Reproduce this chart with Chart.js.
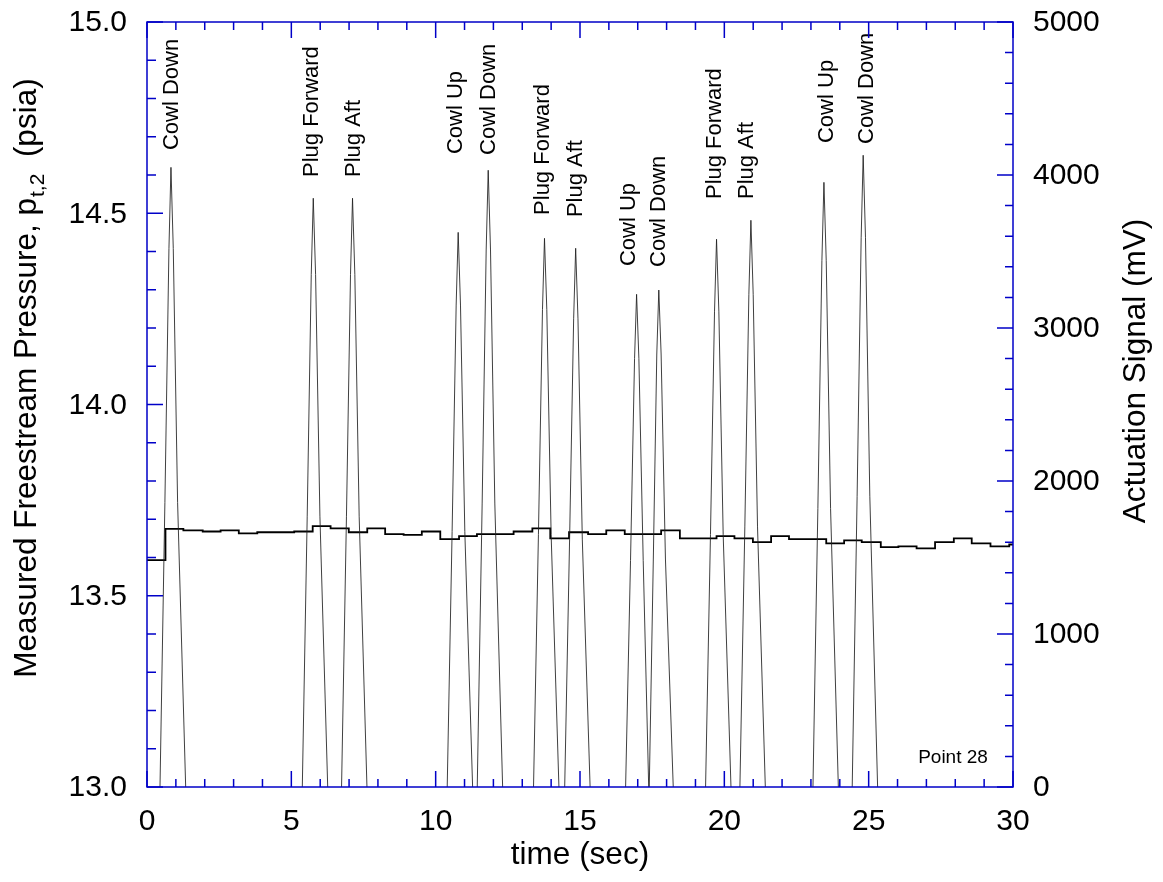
<!DOCTYPE html>
<html>
<head>
<meta charset="utf-8">
<script src="https://cdn.jsdelivr.net/npm/chart.js@4"></script>
<style>
  html, body { margin: 0; padding: 0; background: #fff; }
  #chart { display: block; }
</style>
</head>
<body>
<canvas id="chart" width="1163" height="882"></canvas>
<script>
// --- datos ---

// presion medida (escalones), cada valor vale desde su tiempo hasta el siguiente
const stepTime = [0, 0.64, 1.26, 1.93, 2.55, 3.18, 3.82, 4.45, 5.10, 5.74, 6.36, 6.99,
  7.63, 8.25, 8.89, 9.52, 10.16, 10.81, 11.43, 12.07, 12.70, 13.35, 13.97, 14.62,
  15.28, 15.91, 16.55, 17.18, 17.81, 18.46, 19.08, 19.73, 20.35, 20.99, 21.62, 22.24,
  22.87, 23.53, 24.15, 24.76, 25.42, 26.03, 26.66, 27.30, 27.95, 28.57, 29.22, 29.87, 30];
const stepPsia = [13.593, 13.675, 13.671, 13.668, 13.671, 13.663, 13.666, 13.666, 13.668, 13.682, 13.676, 13.666,
  13.676, 13.661, 13.659, 13.668, 13.648, 13.656, 13.661, 13.661, 13.668, 13.676, 13.650, 13.666,
  13.661, 13.671, 13.661, 13.661, 13.671, 13.650, 13.650, 13.656, 13.650, 13.640, 13.656, 13.648,
  13.648, 13.637, 13.645, 13.640, 13.627, 13.629, 13.624, 13.640, 13.650, 13.637, 13.629, 13.634, 13.634];

// senal de actuacion (mV), picos separados por null
const actTime = [
  0.45, 0.62, 0.76, 0.83, 0.91, 1.06, 1.34, 2,
  5.38, 5.55, 5.69, 5.76, 5.84, 5.99, 6.26, 6.5,
  6.74, 6.91, 7.05, 7.12, 7.20, 7.35, 7.62, 9,
  10.40, 10.57, 10.71, 10.78, 10.86, 11.01, 11.28, 11.35,
  11.44, 11.61, 11.75, 11.82, 11.90, 12.05, 12.32, 13,
  13.39, 13.56, 13.70, 13.77, 13.85, 14.00, 14.27, 14.4,
  14.47, 14.64, 14.78, 14.85, 14.93, 15.08, 15.35, 16,
  16.58, 16.75, 16.89, 16.96, 17.04, 17.19, 17.38, 17.39,
  17.40, 17.54, 17.66, 17.73, 17.81, 17.96, 18.23, 19,
  19.35, 19.52, 19.66, 19.73, 19.81, 19.96, 20.23, 20.4,
  20.54, 20.71, 20.85, 20.92, 21.00, 21.15, 21.42, 22,
  23.07, 23.24, 23.38, 23.45, 23.53, 23.68, 23.95, 24.2,
  24.43, 24.60, 24.74, 24.81, 24.89, 25.04, 25.31];
const actMv = [
  0, 1860, 3520, 4050, 3520, 1860, 0, null,
  0, 1770, 3350, 3848, 3350, 1770, 0, null,
  0, 1770, 3350, 3848, 3350, 1770, 0, null,
  0, 1670, 3150, 3625, 3150, 1670, 0, null,
  0, 1850, 3510, 4031, 3510, 1850, 0, null,
  0, 1650, 3120, 3586, 3120, 1650, 0, null,
  0, 1620, 3060, 3521, 3060, 1620, 0, null,
  0, 1480, 2800, 3220, 2800, 1480, 0, null,
  0, 1490, 2830, 3248, 2830, 1490, 0, null,
  0, 1650, 3110, 3580, 3110, 1650, 0, null,
  0, 1700, 3220, 3704, 3220, 1700, 0, null,
  0, 1820, 3440, 3952, 3440, 1820, 0, null,
  0, 1900, 3590, 4129, 3590, 1900, 0];

// etiquetas de los eventos (inicio del texto vertical)
const eventText = ['Cowl Down', 'Plug Forward', 'Plug Aft', 'Cowl Up', 'Cowl Down', 'Plug Forward', 'Plug Aft',
  'Cowl Up', 'Cowl Down', 'Plug Forward', 'Plug Aft', 'Cowl Up', 'Cowl Down'];
const eventTime = [0.86, 5.73, 7.17, 10.70, 11.85, 13.70, 14.85, 16.70, 17.73, 19.67, 20.77, 23.55, 24.94];
const eventMv = [4163, 3987, 3987, 4137, 4131, 3739, 3725, 3405, 3399, 3843, 3843, 4209, 4203];

// marcas de los ejes
const xTicks = [0, 5, 10, 15, 20, 25, 30];
const leftTicks = ['13.0', '13.5', '14.0', '14.5', '15.0'];
const rightTicks = [0, 1000, 2000, 3000, 4000, 5000];

const AZUL = '#0000c8';
const FUENTE = '"Liberation Sans", Arial, Helvetica, sans-serif';

// ejes, marcas hacia dentro y textos
const marco = {
  id: 'marco',
  afterDatasetsDraw(chart) {
    const ctx = chart.ctx, a = chart.chartArea;
    const sx = chart.scales.x, sy = chart.scales.y, sy2 = chart.scales.y2;
    ctx.save();

    // textos de eventos
    ctx.fillStyle = '#000';
    ctx.font = '22px ' + FUENTE;
    ctx.textAlign = 'left';
    ctx.textBaseline = 'middle';
    eventText.forEach((txt, i) => {
      ctx.save();
      ctx.translate(sx.getPixelForValue(eventTime[i]), sy2.getPixelForValue(eventMv[i]));
      ctx.rotate(-Math.PI / 2);
      ctx.fillText(txt, 0, 0);
      ctx.restore();
    });

    // marco y marcas
    ctx.strokeStyle = AZUL;
    ctx.lineWidth = 1.5;
    ctx.strokeRect(a.left, a.top, a.right - a.left, a.bottom - a.top);
    ctx.beginPath();
    for (let i = 0; i <= 30; i++) {
      const px = sx.getPixelForValue(i);
      const len = i % 5 === 0 ? 16 : 8;
      ctx.moveTo(px, a.bottom); ctx.lineTo(px, a.bottom - len);
      ctx.moveTo(px, a.top); ctx.lineTo(px, a.top + len);
    }
    for (let i = 0; i <= 20; i++) {
      const py = sy.getPixelForValue(13 + i * 0.1);
      const len = i % 5 === 0 ? 16 : 9;
      ctx.moveTo(a.left, py); ctx.lineTo(a.left + len, py);
    }
    for (let i = 0; i <= 25; i++) {
      const py = sy2.getPixelForValue(i * 200);
      const len = i % 5 === 0 ? 16 : 8;
      ctx.moveTo(a.right, py); ctx.lineTo(a.right - len, py);
    }
    ctx.stroke();

    // etiquetas de las marcas
    ctx.fillStyle = '#000';
    ctx.font = '30px ' + FUENTE;
    ctx.textBaseline = 'middle';
    ctx.textAlign = 'right';
    leftTicks.forEach(t => ctx.fillText(t, a.left - 20, sy.getPixelForValue(parseFloat(t)) + 1));
    ctx.textAlign = 'left';
    rightTicks.forEach(t => ctx.fillText(String(t), a.right + 20, sy2.getPixelForValue(t) + 1));
    ctx.textAlign = 'center';
    ctx.textBaseline = 'alphabetic';
    xTicks.forEach(t => ctx.fillText(String(t), sx.getPixelForValue(t), a.bottom + 43));

    // titulos
    ctx.font = '31.5px ' + FUENTE;
    ctx.fillText('time (sec)', (a.left + a.right) / 2, 864);

    ctx.save();
    ctx.translate(1145, 371);
    ctx.rotate(-Math.PI / 2);
    ctx.fillText('Actuation Signal (mV)', 0, 0);
    ctx.restore();

    // titulo izquierdo con subindice
    const parte1 = 'Measured Freestream Pressure, p';
    const sub = 't,2';
    const parte2 = '  (psia)';
    ctx.font = '31.5px ' + FUENTE;
    const w1 = ctx.measureText(parte1).width;
    const w3 = ctx.measureText(parte2).width;
    ctx.font = '21px ' + FUENTE;
    const w2 = ctx.measureText(sub).width;
    const total = w1 + w2 + w3;
    ctx.save();
    ctx.translate(36, 378);
    ctx.rotate(-Math.PI / 2);
    ctx.textAlign = 'left';
    let x0 = -total / 2;
    ctx.font = '31.5px ' + FUENTE;
    ctx.fillText(parte1, x0, 0);
    ctx.font = '21px ' + FUENTE;
    ctx.fillText(sub, x0 + w1 + 1, 8);
    ctx.font = '31.5px ' + FUENTE;
    ctx.fillText(parte2, x0 + w1 + w2, 0);
    ctx.restore();

    // identificador del punto
    ctx.font = '19px ' + FUENTE;
    ctx.textAlign = 'center';
    ctx.textBaseline = 'middle';
    ctx.fillText('Point 28', a.right - 60, a.bottom - 29);

    ctx.restore();
  }
};

new Chart(document.getElementById('chart'), {
  type: 'line',
  data: {
    datasets: [
      {
        label: 'Actuation',
        data: actTime.map((t, i) => ({ x: t, y: actMv[i] })),
        yAxisID: 'y2',
        borderColor: 'rgba(30,30,30,0.85)',
        borderWidth: 1,
        pointRadius: 0,
        spanGaps: false,
        tension: 0
      },
      {
        label: 'Pressure',
        data: stepTime.map((t, i) => ({ x: t, y: stepPsia[i] })),
        yAxisID: 'y',
        borderColor: '#000',
        borderWidth: 1.8,
        pointRadius: 0,
        stepped: true
      }
    ]
  },
  options: {
    responsive: false,
    animation: false,
    devicePixelRatio: 1,
    layout: { padding: { left: 147, right: 150, top: 22, bottom: 95 } },
    plugins: { legend: { display: false }, tooltip: { enabled: false } },
    scales: {
      x: { type: 'linear', min: 0, max: 30, display: false },
      y: { type: 'linear', min: 13, max: 15, display: false },
      y2: { type: 'linear', min: 0, max: 5000, display: false }
    }
  },
  plugins: [marco]
});
</script>
</body>
</html>
